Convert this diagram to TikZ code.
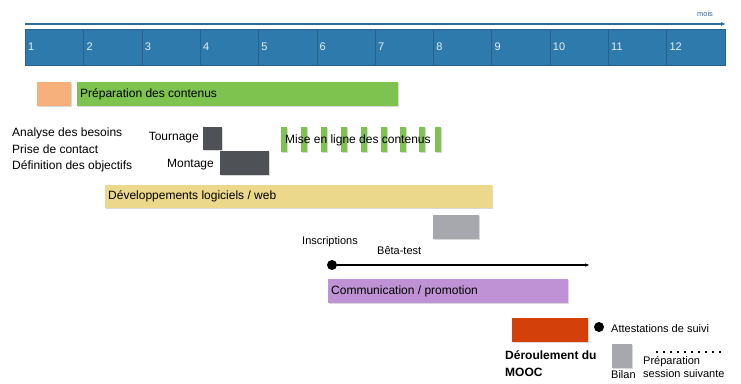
\documentclass[tikz,border=0pt]{standalone}
\usepackage{fontspec}
\setmainfont{Liberation Sans}
\usetikzlibrary{arrows.meta}
\usetikzlibrary{shadows}

\definecolor{moisbleu}{RGB}{47,122,172}
\definecolor{axe}{RGB}{52,106,150}
\definecolor{orangeclair}{RGB}{246,176,124}
\definecolor{vert}{RGB}{126,195,80}
\definecolor{grisfonce}{RGB}{78,81,86}
\definecolor{jaune}{RGB}{236,216,138}
\definecolor{grisclair}{RGB}{166,168,173}
\definecolor{violet}{RGB}{190,146,212}
\definecolor{rouge}{RGB}{212,64,10}

\begin{document}
\begin{tikzpicture}[x=1pt,y=-1pt,
		bar/.style={rectangle,anchor=north west,inner sep=0pt,draw=none,
			drop shadow={shadow xshift=0.5pt,shadow yshift=-1.2pt,opacity=0.3}},
		txt/.style={anchor=west,inner sep=0pt,font=\fontsize{12}{14}\selectfont},
		petit/.style={anchor=west,inner sep=0pt,font=\fontsize{11}{13}\selectfont}]
			\useasboundingbox (0,0) rectangle (741,383);
			
			% mois
			
			\coordinate (T0) at (25,24);
			\coordinate (T1) at (726,24);
			\draw[-{Latex[length=5pt,width=4pt]},line width=1.3pt,color=axe] (T0) -- (T1);
			\node[inner sep=0pt,text=axe,font=\fontsize{7.5}{8}\selectfont] (mois) at (705,14) {mois};
			\foreach \i in {1,...,12} {
				\pgfmathsetmacro{\xm}{25+58.3*(\i-1)}
				\node[bar,fill=moisbleu,draw=moisbleu!80!black,line width=0.3pt,
					minimum width=58.3pt,minimum height=36pt] (M\i) at (\xm,29) {};
				\node[petit,text=white!88!moisbleu] (N\i) at ([xshift=3pt]M\i.west) {\i};
			}
			
			% contenus
			
			\node[bar,fill=orangeclair,minimum width=34pt,minimum height=24pt] (P0) at (37,82) {};
			\node[bar,fill=vert,minimum width=321pt,minimum height=24pt] (P1) at (77,82) {};
			\node[txt] (P1t) at ([xshift=3pt]P1.west) {Préparation des contenus};
			\node[txt,align=left,font=\fontsize{12}{16.5}\selectfont] (analyse) at (12,150)
				{Analyse des besoins\\Prise de contact\\Définition des objectifs};
			
			\node[bar,fill=grisfonce,minimum width=19pt,minimum height=23pt] (tour) at (203,127) {};
			\node[txt,anchor=east] (tourt) at (199,138) {Tournage};
			\node[bar,fill=grisfonce,minimum width=49pt,minimum height=24pt] (mont) at (220,151) {};
			\node[txt,anchor=east] (montt) at (214,165) {Montage};
			
			\foreach \x [count=\k] in {281,301,321,341,361,381,400,419,435} {
				\node[bar,fill=vert,minimum width=6pt,minimum height=25pt] (L\k) at (\x,127) {};
			}
			\node[txt] (enligne) at (285,140) {Mise en ligne des contenus};
			
			% developpements
			
			\node[bar,fill=jaune,minimum width=387pt,minimum height=23pt] (dev) at (105,185) {};
			\node[txt] (devt) at ([xshift=3pt]dev.west) {Développements logiciels / web};
			\node[bar,fill=grisclair,minimum width=46pt,minimum height=24pt] (beta) at (433,215) {};
			
			% communication
			
			\node[petit] (insc) at (302,242) {Inscriptions};
			\node[petit] (betat) at (377,251) {Bêta-test};
			\node[circle,fill=black,inner sep=0pt,minimum size=10pt] (D1) at (332,265) {};
			\coordinate (D2) at (590,265);
			\draw[-{Latex[length=5pt,width=3.5pt]},line width=1.2pt] (D1) -- (D2);
			\node[bar,fill=violet,minimum width=240pt,minimum height=24pt] (comm) at (328,279) {};
			\node[txt] (commt) at ([xshift=3pt]comm.west) {Communication / promotion};
			
			% mooc
			
			\node[bar,fill=rouge,minimum width=76pt,minimum height=24pt] (mooc) at (512,318) {};
			\node[circle,fill=black,inner sep=0pt,minimum size=10pt] (D3) at (599,327) {};
			\node[petit] (attest) at (611,329) {Attestations de suivi};
			\node[inner sep=0pt,anchor=north west,align=left,
				font=\fontsize{12}{17}\bfseries\selectfont] (moocT) at (505,350) {Déroulement du\\MOOC};
			\node[bar,fill=grisclair,minimum width=20pt,minimum height=24pt] (bilan) at (612,344) {};
			\node[petit] (bilant) at (611,375) {Bilan};
			\coordinate (E1) at (656,352);
			\coordinate (E2) at (724,352);
			\draw[line width=1.6pt,dash pattern=on 1.6pt off 5.4pt] (E1) -- (E2);
			\node[inner sep=0pt,anchor=north west,align=left,
				font=\fontsize{11}{13.5}\selectfont] (suite) at (643,356) {Préparation\\session suivante};
			
		\end{tikzpicture}
\end{document}
